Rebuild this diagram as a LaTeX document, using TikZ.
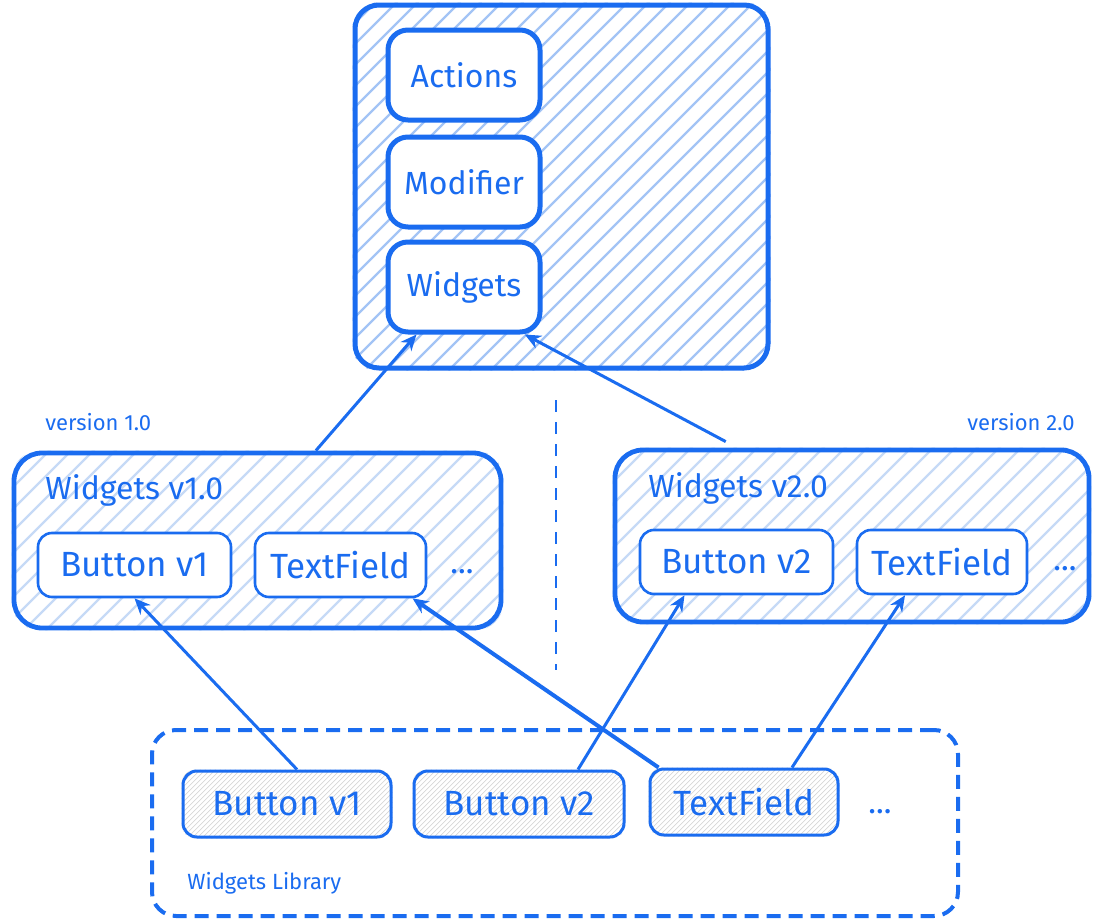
\documentclass[tikz,border=0pt]{standalone}
\usepackage{fontspec}
\setmainfont{Fira Sans}
\usepackage{xcolor}
\usetikzlibrary{calc,positioning,arrows.meta,backgrounds,fit}
\definecolor{skblue}{HTML}{1A6CF0}
\definecolor{hatchA}{HTML}{A3C4F5}
\definecolor{hatchB}{HTML}{C6DAF6}
\definecolor{hatchC}{HTML}{D6D6D6}
\newcommand{\CapF}{\fontsize{16}{19}\selectfont}
\newcommand{\BtnF}{\fontsize{17.5}{21}\selectfont}
\newcommand{\NoteF}{\fontsize{11}{13}\selectfont}
\tikzset{
  >={Stealth[length=8pt,width=7pt]},
  corebox/.style={draw=skblue, line width=2.5pt, rounded corners=12pt, inner sep=0pt},
  layer/.style={draw=skblue, line width=2.5pt, rounded corners=10pt, fill=white, text=skblue,
                font=\CapF, minimum width=76pt, minimum height=45pt},
  verbox/.style={draw=skblue, line width=2.4pt, rounded corners=14pt, inner sep=0pt},
  widget/.style={draw=skblue, line width=1.3pt, rounded corners=7pt, fill=white, text=skblue,
                 font=\BtnF, minimum height=32pt},
  libbox/.style={draw=skblue, line width=2pt, dash pattern=on 7pt off 4pt, rounded corners=12pt, inner sep=0pt},
  libwidget/.style={draw=skblue, line width=1.5pt, rounded corners=7pt, text=skblue,
                    font=\BtnF, minimum height=33pt},
  caption/.style={text=skblue, font=\CapF, inner sep=0pt},
  note/.style={text=skblue, font=\NoteF, inner sep=0pt},
  dots/.style={text=skblue, font=\CapF, inner sep=0pt},
  uses/.style={->, draw=skblue, line width=1.5pt},
}

\begin{document}
\begin{tikzpicture}[x=0.5pt,y=-0.5pt]
  \useasboundingbox (0,0) rectangle (1094,921);
  % core module
  \node[corebox, fit={(355,5) (768,368)}] (core) {};
  \node[layer] at (464,75) (act) {Actions};
  \node[layer, below=6pt of act] (mod) {Modifier};
  \node[layer, below=5pt of mod] (wdg) {Widgets};
  % versions
  \node[note, anchor=west] at (45,422) (ver1) {version 1.0};
  \node[note, anchor=east] at (1075,422) (ver2) {version 2.0};
  \coordinate (splittop) at (556,400);
  \coordinate (splitbot) at (556,670);
  \draw[skblue, line width=1.2pt, dash pattern=on 6pt off 5pt] (splittop) -- (splitbot);
  \node[verbox, fit={(14,453) (501,628)}] (wv1) {};
  \node[caption, anchor=west] at (45,490) (cap1) {Widgets v1.0};
  \node[widget, minimum width=96.5pt] at (134.5,565) (bv1) {Button v1};
  \node[widget, minimum width=85.5pt] at (340.5,565) (tf1) {TextField};
  \node[dots] at (462,572) (dots1) {...};
  \node[verbox, fit={(615,450) (1089,622)}] (wv2) {};
  \node[caption, anchor=west] at (648,488) (cap2) {Widgets v2.0};
  \node[widget, minimum width=96.5pt] at (736.5,562) (bv2) {Button v2};
  \node[widget, minimum width=85pt] at (942,562) (tf2) {TextField};
  \node[dots] at (1065,569) (dots2) {...};
  % library
  \node[libbox, fit={(152,730) (958,916)}] (lib) {};
  \node[libwidget, minimum width=104pt] at (287,804) (lbv1) {Button v1};
  \node[libwidget, minimum width=105pt] at (519,804) (lbv2) {Button v2};
  \node[libwidget, minimum width=94pt] at (744,802) (ltf) {TextField};
  \node[dots] at (880,812) (dots3) {...};
  \node[note, anchor=west] at (187,883) (libcap) {Widgets Library};
  % hatching
  \begin{scope}[on background layer]
    \foreach \n/\s/\c/\w/\r in {core/21/hatchA/1.1pt/12pt, wv1/22/hatchB/1.1pt/14pt, wv2/22/hatchB/1.1pt/14pt,
        lbv1/5/hatchC/0.35pt/7pt, lbv2/5/hatchC/0.35pt/7pt, ltf/5/hatchC/0.35pt/7pt}{
      \begin{scope}
        \clip[rounded corners=\r] (\n.south west) rectangle (\n.north east);
        \foreach \k in {0,\s,...,1000}
          \draw[\c, line width=\w] ($(\n.south west)+(\k-450,0)$) -- ++(500,-500);
      \end{scope}}
  \end{scope}
  % dependencies
  \draw[uses] (wv1.57) -- (wdg.225);
  \draw[uses] ([yshift=3pt]wv2.145) -- (wdg.322);
  \draw[uses] ([xshift=5pt]lbv1.north) -- (bv1.south);
  \draw[uses, line width=2pt] ([xshift=5pt]ltf.north west) -- ([xshift=36pt]tf1.south);
  \draw[uses] ([xshift=29.5pt]lbv2.north) -- ([xshift=-26pt]bv2.south);
  \draw[uses] ([xshift=24pt]ltf.north) -- ([xshift=-18.5pt]tf2.south);
\end{tikzpicture}
\end{document}
